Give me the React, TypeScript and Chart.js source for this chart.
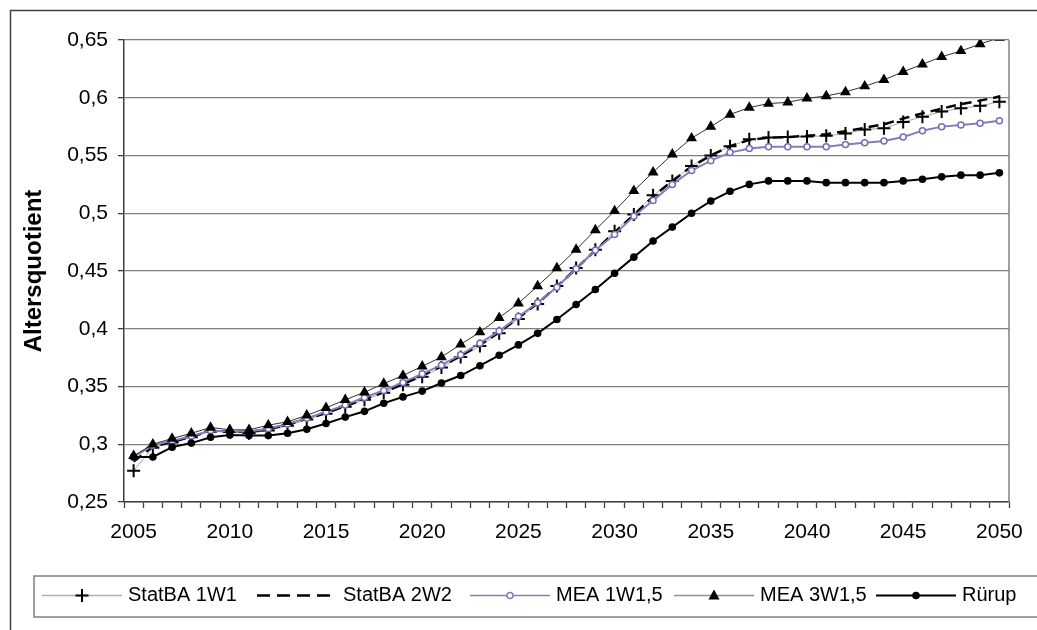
import React, { useEffect, useRef } from "react";
import { Chart, registerables } from "chart.js";

Chart.register(...registerables);

const FONT = "'Liberation Sans', Arial, sans-serif";

const years = [
  "2005", "2006", "2007", "2008", "2009", "2010", "2011", "2012", "2013", "2014",
  "2015", "2016", "2017", "2018", "2019", "2020", "2021", "2022", "2023", "2024",
  "2025", "2026", "2027", "2028", "2029", "2030", "2031", "2032", "2033", "2034",
  "2035", "2036", "2037", "2038", "2039", "2040", "2041", "2042", "2043", "2044",
  "2045", "2046", "2047", "2048", "2049", "2050",
];

const statBA1W1 = [
  0.277, 0.297, 0.3015, 0.306, 0.311, 0.3105, 0.3095, 0.312, 0.316, 0.3215,
  0.3265, 0.3325, 0.3385, 0.3445, 0.3515, 0.3585, 0.3665, 0.3755, 0.385, 0.396,
  0.4085, 0.4215, 0.437, 0.4525, 0.4685, 0.4845, 0.499, 0.5155, 0.528, 0.541,
  0.55, 0.558, 0.564, 0.5655, 0.566, 0.5665, 0.567, 0.569, 0.5725, 0.5735,
  0.579, 0.5835, 0.588, 0.591, 0.593, 0.5965,
];

const statBA2W2 = [
  0.285, 0.298, 0.302, 0.3065, 0.3115, 0.311, 0.3105, 0.313, 0.317, 0.322,
  0.327, 0.333, 0.339, 0.345, 0.352, 0.3595, 0.3675, 0.3765, 0.386, 0.397,
  0.4095, 0.422, 0.4365, 0.452, 0.468, 0.4835, 0.4985, 0.5145, 0.528, 0.5405,
  0.55, 0.558, 0.5635, 0.5655, 0.566, 0.567, 0.5685, 0.571, 0.574, 0.577,
  0.582, 0.5865, 0.5905, 0.5945, 0.5975, 0.601,
];

const mea1W15 = [
  0.289, 0.299, 0.303, 0.307, 0.312, 0.311, 0.311, 0.3135, 0.3175, 0.3225,
  0.328, 0.334, 0.3405, 0.3465, 0.3535, 0.361, 0.3685, 0.3775, 0.3875, 0.398,
  0.4105, 0.4225, 0.436, 0.452, 0.468, 0.4815, 0.4975, 0.511, 0.525, 0.537,
  0.5455, 0.5525, 0.556, 0.5575, 0.5575, 0.5575, 0.5575, 0.5595, 0.561, 0.5625,
  0.566, 0.5715, 0.575, 0.5765, 0.578, 0.58,
];

const mea3W15 = [
  0.29, 0.3, 0.305, 0.3095, 0.3145, 0.3125, 0.3125, 0.3165, 0.3195, 0.325,
  0.3315, 0.3385, 0.345, 0.3525, 0.3595, 0.3675, 0.3755, 0.3865, 0.397, 0.4095,
  0.422, 0.437, 0.4525, 0.4685, 0.4855, 0.502, 0.5195, 0.5355, 0.551, 0.565,
  0.575, 0.5855, 0.5915, 0.595, 0.596, 0.5995, 0.6015, 0.605, 0.61, 0.6155,
  0.6225, 0.629, 0.6355, 0.6405, 0.6465, 0.652,
];

const ruerup = [
  0.289, 0.289, 0.2975, 0.301, 0.306, 0.308, 0.3075, 0.3075, 0.3095, 0.313,
  0.318, 0.3235, 0.3285, 0.3355, 0.341, 0.346, 0.353, 0.3595, 0.368, 0.377,
  0.386, 0.396, 0.408, 0.421, 0.434, 0.448, 0.462, 0.476, 0.488, 0.5,
  0.5105, 0.519, 0.525, 0.528, 0.528, 0.528, 0.5265, 0.5265, 0.5265, 0.5265,
  0.528, 0.5295, 0.5315, 0.533, 0.533, 0.535,
];

const seriesLabels = ["StatBA 1W1", "StatBA 2W2", "MEA 1W1,5", "MEA 3W1,5", "Rürup"];

const yMin = 0.25;
const yMax = 0.65;
const yStep = 0.05;
const yTitle = "Altersquotient";

type LegendItem = {
  label: string;
  x: number;
  line: string;
  width: number;
  dash: number[];
  marker: "plus" | "none" | "circleOpen" | "triangle" | "dot";
  markerColor: string;
};

const legendItems: LegendItem[] = [
  { label: seriesLabels[0], x: 42, line: "#b0b0b0", width: 1.5, dash: [], marker: "plus", markerColor: "#000" },
  { label: seriesLabels[1], x: 257, line: "#000", width: 2.5, dash: [13, 7], marker: "none", markerColor: "#000" },
  { label: seriesLabels[2], x: 470, line: "#7f7fbf", width: 1.5, dash: [], marker: "circleOpen", markerColor: "#7f7fbf" },
  { label: seriesLabels[3], x: 674, line: "#909090", width: 1.5, dash: [], marker: "triangle", markerColor: "#000" },
  { label: seriesLabels[4], x: 876, line: "#000", width: 2, dash: [], marker: "dot", markerColor: "#000" },
];

function drawMarker(ctx: CanvasRenderingContext2D, kind: string, x: number, y: number, color: string) {
  ctx.save();
  ctx.setLineDash([]);
  if (kind === "plus") {
    ctx.strokeStyle = color;
    ctx.lineWidth = 2;
    ctx.beginPath();
    ctx.moveTo(x - 6.5, y);
    ctx.lineTo(x + 6.5, y);
    ctx.moveTo(x, y - 6.5);
    ctx.lineTo(x, y + 6.5);
    ctx.stroke();
  } else if (kind === "circleOpen") {
    ctx.fillStyle = "#fff";
    ctx.strokeStyle = color;
    ctx.lineWidth = 1.5;
    ctx.beginPath();
    ctx.arc(x, y, 3, 0, Math.PI * 2);
    ctx.fill();
    ctx.stroke();
  } else if (kind === "triangle") {
    ctx.fillStyle = color;
    ctx.beginPath();
    ctx.moveTo(x, y - 6);
    ctx.lineTo(x + 5.5, y + 4);
    ctx.lineTo(x - 5.5, y + 4);
    ctx.closePath();
    ctx.fill();
  } else if (kind === "dot") {
    ctx.fillStyle = color;
    ctx.beginPath();
    ctx.arc(x, y, 3.8, 0, Math.PI * 2);
    ctx.fill();
  }
  ctx.restore();
}

const framePlugin = {
  id: "frame",
  beforeDraw(chart: any) {
    const ctx = chart.ctx as CanvasRenderingContext2D;
    ctx.save();
    ctx.fillStyle = "#fff";
    ctx.fillRect(0, 0, chart.width, chart.height);
    ctx.strokeStyle = "#404040";
    ctx.lineWidth = 1.5;
    ctx.beginPath();
    ctx.moveTo(10.5, chart.height + 5);
    ctx.lineTo(10.5, 10.5);
    ctx.lineTo(chart.width + 5, 10.5);
    ctx.stroke();
    ctx.restore();
  },
  beforeDatasetsDraw(chart: any) {
    const { ctx, chartArea } = chart;
    ctx.save();
    ctx.strokeStyle = "#808080";
    ctx.lineWidth = 1.5;
    ctx.beginPath();
    ctx.moveTo(chartArea.right, chartArea.top);
    ctx.lineTo(chartArea.right, chartArea.bottom);
    ctx.stroke();
    ctx.restore();
  },
  afterDraw(chart: any) {
    const ctx = chart.ctx as CanvasRenderingContext2D;
    ctx.save();
    ctx.strokeStyle = "#808080";
    ctx.lineWidth = 1.5;
    ctx.strokeRect(34, 576, chart.width + 20, 41);
    ctx.font = `20px ${FONT}`;
    ctx.textBaseline = "middle";
    ctx.textAlign = "left";
    ctx.fillStyle = "#000";
    const y = 595.5;
    for (const it of legendItems) {
      const x = it.x;
      ctx.strokeStyle = it.line;
      ctx.lineWidth = it.width;
      ctx.setLineDash(it.dash);
      ctx.beginPath();
      ctx.moveTo(x, y);
      ctx.lineTo(x + 80, y);
      ctx.stroke();
      ctx.setLineDash([]);
      drawMarker(ctx, it.marker, x + 40, y, it.markerColor);
      ctx.fillStyle = "#000";
      ctx.fillText(it.label, x + 86, y);
    }
    ctx.restore();
  },
};

export default function App() {
  const ref = useRef<HTMLCanvasElement>(null);

  useEffect(() => {
    if (!ref.current) return;
    const chart = new Chart(ref.current, {
      type: "line",
      data: {
        labels: years,
        datasets: [
          {
            label: seriesLabels[0],
            data: statBA1W1,
            borderColor: "#a8a8a8",
            borderWidth: 1,
            pointStyle: "cross",
            pointRadius: 6.5,
            pointBorderWidth: 2,
            pointBorderColor: "#000",
            pointBackgroundColor: "#000",
            tension: 0,
            order: 4,
          },
          {
            label: seriesLabels[1],
            data: statBA2W2,
            borderColor: "#000",
            borderWidth: 2.5,
            borderDash: [10, 6],
            pointRadius: 0,
            tension: 0,
            order: 3,
          },
          {
            label: seriesLabels[2],
            data: mea1W15,
            borderColor: "#7f7fbf",
            borderWidth: 2,
            pointStyle: "circle",
            pointRadius: 3,
            pointBorderWidth: 1.5,
            pointBorderColor: "#7070b8",
            pointBackgroundColor: "#fff",
            tension: 0,
            order: 2,
          },
          {
            label: seriesLabels[3],
            data: mea3W15,
            borderColor: "#303030",
            borderWidth: 1,
            pointStyle: "triangle",
            pointRadius: 6.3,
            pointBorderWidth: 0,
            pointBackgroundColor: "#000",
            pointBorderColor: "#000",
            tension: 0,
            order: 1,
          },
          {
            label: seriesLabels[4],
            data: ruerup,
            borderColor: "#000",
            borderWidth: 2,
            pointStyle: "circle",
            pointRadius: 3.8,
            pointBorderWidth: 0,
            pointBackgroundColor: "#000",
            pointBorderColor: "#000",
            tension: 0,
            order: 0,
          },
        ],
      },
      options: {
        animation: false,
        responsive: true,
        maintainAspectRatio: false,
        devicePixelRatio: 1,
        layout: { padding: { left: 10, top: 40, right: 28, bottom: 78 } },
        plugins: {
          legend: { display: false },
          tooltip: { enabled: false },
          title: { display: false },
        },
        scales: {
          x: {
            type: "category",
            offset: true,
            grid: {
              display: true,
              offset: true,
              drawOnChartArea: false,
              drawTicks: true,
              tickLength: 6,
              tickColor: "#404040",
              tickWidth: 1.3,
            },
            border: { display: true, color: "#404040", width: 1.5 },
            ticks: {
              autoSkip: false,
              maxRotation: 0,
              minRotation: 0,
              padding: 12,
              color: "#000",
              font: { family: FONT, size: 21 },
              callback: function (this: any, val: any, index: number) {
                return index % 5 === 0 ? this.getLabelForValue(val) : "";
              },
            },
            afterFit: (scale: any) => {
              scale.height = 50;
            },
          },
          y: {
            min: yMin,
            max: yMax,
            grid: {
              color: "#808080",
              lineWidth: 1.3,
              drawTicks: true,
              tickLength: 6,
              tickColor: "#404040",
            },
            border: { display: true, color: "#404040", width: 1.5 },
            ticks: {
              stepSize: yStep,
              padding: 10,
              color: "#000",
              font: { family: FONT, size: 21 },
              callback: (v: any) => String(Math.round(Number(v) * 100) / 100).replace(".", ","),
            },
            title: {
              display: true,
              text: yTitle,
              color: "#000",
              font: { family: FONT, size: 24, weight: "bold" },
              padding: { top: 10, bottom: 0 },
            },
            afterFit: (scale: any) => {
              scale.width = 114;
            },
          },
        },
      },
      plugins: [framePlugin],
    });
    return () => chart.destroy();
  }, []);

  return (
    <div style={{ position: "fixed", left: 0, top: 0, width: 1037, height: 630, background: "#fff" }}>
      <canvas ref={ref} />
    </div>
  );
}
